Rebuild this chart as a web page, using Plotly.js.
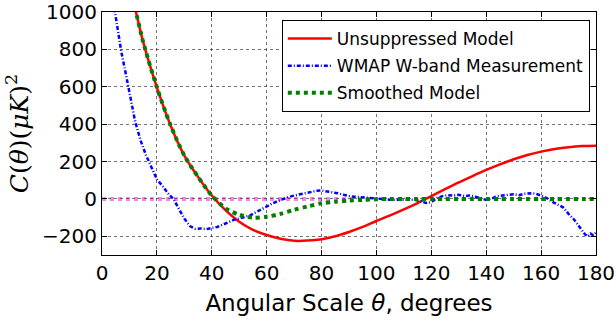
<!DOCTYPE html>
<html>
<head>
<meta charset="utf-8">
<script src="https://cdn.plot.ly/plotly-3.0.1.min.js"></script>
<style>html,body{margin:0;padding:0;background:#fff;}#chart{width:616px;height:323px;}</style>
</head>
<body>
<div id="chart"></div>
<script>
// Angular scale (degrees) for the model curves
const modelTheta = [12, 15, 20, 25, 30, 35, 40, 45, 50, 55, 60, 65, 70, 75, 80, 85, 90, 95, 100, 105, 110, 115, 120, 125, 130, 135, 140, 145, 150, 155, 160, 165, 170, 175, 180];
// Unsuppressed model C(theta)
const unsuppressed = [1025, 840, 597, 393, 232, 118, 18, -60, -122, -165, -193, -213, -224, -223, -216, -200, -177, -150, -118, -88, -56, -22, 15, 52, 88, 122, 155, 185, 212, 235, 253, 267, 277, 283, 285];
// Smoothed model C(theta)
const smoothed = [1025, 840, 597, 393, 232, 118, 18, -50, -85, -100, -95, -80, -58, -40, -23, -15, -9, -5, -2, 0, 0, 0, 0, 0, 0, 0, 0, 0, 0, 0, 0, 0, 0, 0, 0];
// WMAP W-band measurement
const wmapTheta = [4.5, 5, 7, 9, 10, 12, 14, 16, 18, 20, 22, 24, 26, 28, 30, 32, 34, 36, 38, 40, 42, 44, 46, 48, 50, 52, 54, 56, 58, 60, 62, 64, 66, 68, 70, 72, 74, 76, 78, 80, 82, 84, 86, 88, 90, 92, 94, 96, 98, 100, 102, 105, 108, 111, 114, 116, 118, 120, 122, 124, 126, 128, 130, 132, 134, 136, 138, 140, 142, 144, 146, 148, 150, 152, 154, 156, 158, 160, 162, 164, 166, 168, 170, 172, 174, 176, 177, 178, 179, 180];
const wmap = [1020, 970, 790, 645, 570, 420, 315, 235, 170, 105, 70, 30, 0, -55, -105, -145, -160, -158, -162, -155, -150, -138, -125, -112, -105, -95, -88, -72, -55, -40, -25, -12, 0, 10, 18, 25, 30, 38, 43, 45, 42, 35, 30, 22, 15, 12, 10, 6, 4, 3, 0, -5, -5, -8, -5, -12, -22, -18, 5, 15, 20, 18, 22, 15, 18, 12, 5, -5, 2, 15, 18, 22, 25, 20, 28, 30, 28, 18, 5, -15, -30, -45, -80, -110, -150, -190, -200, -185, -195, -180];
// Zero reference line
const zeroTheta = [0, 180];
const zeroLine = [0, 0];

const traces = [
  {x: zeroTheta, y: zeroLine, mode: 'lines', showlegend: false, hoverinfo: 'skip',
   line: {color: 'rgba(200,0,200,0.45)', width: 4, dash: 'dot'}},
  {x: modelTheta, y: unsuppressed, mode: 'lines', name: 'Unsuppressed Model', legendgroup: 'a',
   line: {color: '#ff0000', width: 2.5, shape: 'spline', smoothing: 0.8}},
  {x: wmapTheta, y: wmap, mode: 'lines', name: 'WMAP W-band Measurement', legendgroup: 'b',
   line: {color: '#0000ff', width: 2.5, dash: '4px,2px,1px,2px'}},
  {x: modelTheta, y: smoothed, mode: 'lines', name: 'Smoothed Model', legendgroup: 'c',
   line: {color: '#007f00', width: 4, dash: 'dot', shape: 'spline', smoothing: 0.8}}
];

const axisCommon = {
  showline: true, linecolor: '#000', linewidth: 1, mirror: 'allticks',
  ticks: 'inside', ticklen: 5, tickcolor: '#000', tickwidth: 1,
  showgrid: true, gridcolor: 'rgba(0,0,0,0.55)', gridwidth: 1, griddash: 'dot',
  zeroline: false,
  tickfont: {family: 'DejaVu Sans', size: 20, color: '#000'}
};

const layout = {
  width: 616, height: 323,
  margin: {l: 102, r: 20, t: 12, b: 68},
  paper_bgcolor: '#fff', plot_bgcolor: '#fff',
  showlegend: true,
  legend: {x: 0.364, y: 0.967, xanchor: 'left', yanchor: 'top',
    bgcolor: '#fff', bordercolor: '#000', borderwidth: 1,
    font: {family: 'DejaVu Sans', size: 17, color: '#000'},
    itemwidth: 44, tracegroupgap: 2},
  xaxis: Object.assign({}, axisCommon, {
    range: [0, 180], tickvals: [0, 20, 40, 60, 80, 100, 120, 140, 160, 180],
    title: {text: 'Angular Scale <i>θ</i>, degrees', font: {family: 'DejaVu Sans', size: 23, color: '#000'}, standoff: 10}
  }),
  yaxis: Object.assign({}, axisCommon, {
    range: [-300, 1000], tickvals: [-200, 0, 200, 400, 600, 800, 1000],
    ticktext: ['\u2212200', '0', '200', '400', '600', '800', '1000'],
    title: {text: '<i>C</i>(<i>θ</i>)(<i>μK</i>)<sup>2</sup>', font: {family: 'DejaVu Serif', size: 25, color: '#000'}, standoff: 6}
  })
};

Plotly.newPlot('chart', traces, layout, {displayModeBar: false, staticPlot: true});
</script>
</body>
</html>
